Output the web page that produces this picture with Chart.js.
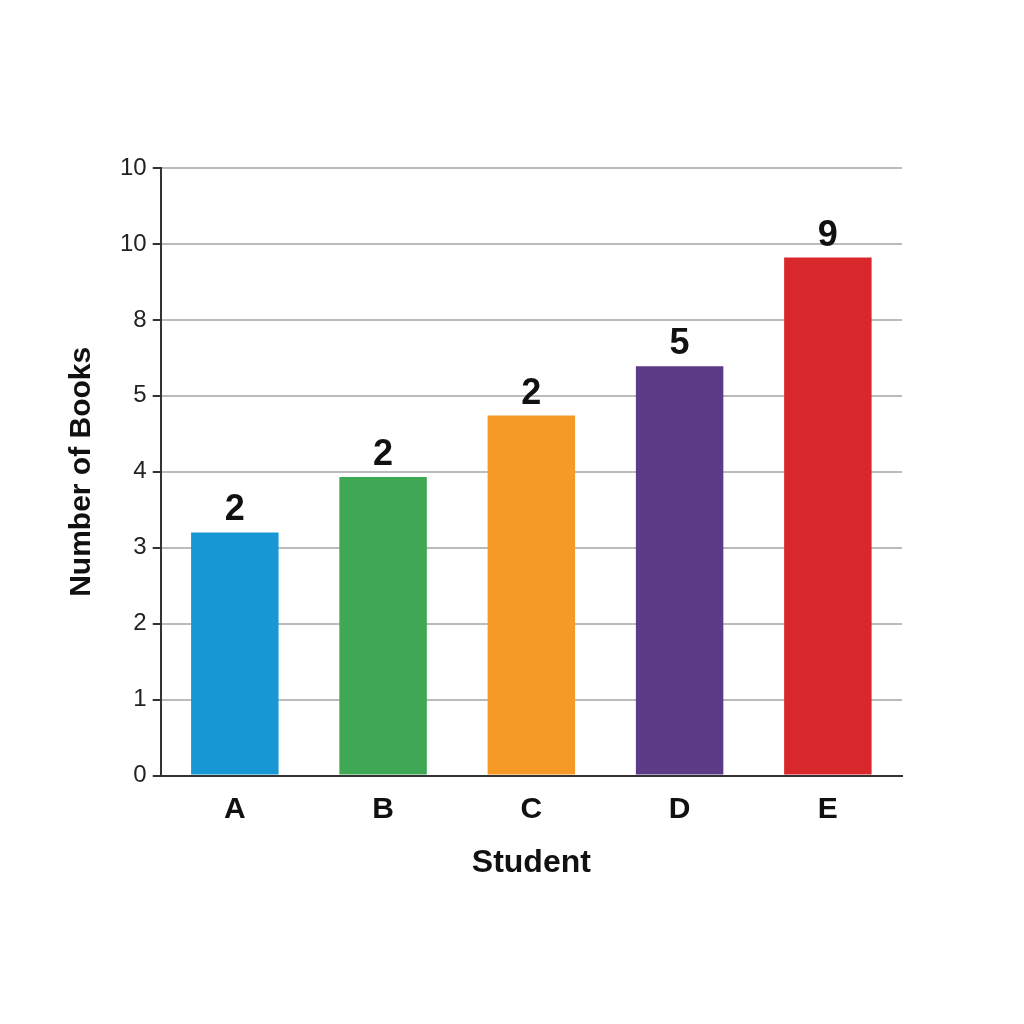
<!DOCTYPE html>
<html><head><meta charset="utf-8">
<script src="https://cdn.jsdelivr.net/npm/chart.js@4"></script>
<style>html,body{margin:0;background:#fff}#w{position:absolute;left:0;top:0;width:1024px;height:1024px}</style>
</head><body><div id="w"><canvas id="c" width="1024" height="1024"></canvas></div>
<script>
const categories = ["A","B","C","D","E"];
const barHeights = [3.2, 3.93, 4.74, 5.39, 6.82];
const barLabels = ["2","2","2","5","9"];
const yTickLabels = ["0","1","2","3","4","5","8","10","10"];
const colors = ["#1798d4","#3ea855","#f59a26","#5c3a86","#d8282b"];

const labelPlugin = {
  id: 'lbl',
  afterDatasetsDraw(chart) {
    const ctx = chart.ctx;
    const meta = chart.getDatasetMeta(0);
    ctx.save();
    ctx.font = 'bold 36px "Liberation Sans", Arial, sans-serif';
    ctx.fillStyle = '#111';
    ctx.textAlign = 'center';
    ctx.textBaseline = 'bottom';
    meta.data.forEach((b, i) => ctx.fillText(barLabels[i], b.x, b.y - 4));
    ctx.restore();
  }
};

new Chart(document.getElementById('c'), {
  type: 'bar',
  data: { labels: categories, datasets: [{ data: barHeights, backgroundColor: colors, barPercentage: 0.59, categoryPercentage: 1 }] },
  options: {
    responsive: false, animation: false,
    layout: { padding: { left: 60, right: 122, top: 168, bottom: 138 } },
    plugins: { legend: { display: false }, tooltip: { enabled: false } },
    scales: {
      x: {
        grid: { display: false },
        border: { color: '#333', width: 2 },
        ticks: { color: '#111', font: { size: 30, weight: 'bold', family: '"Liberation Sans", Arial' }, padding: 8 },
        title: { display: true, text: 'Student', color: '#111', font: { size: 32, weight: 'bold', family: '"Liberation Sans", Arial' }, padding: { top: 8 } }
      },
      y: {
        min: 0, max: 8,
        grid: { color: '#bbb', lineWidth: 2, tickLength: 8, tickColor: '#333' },
        border: { color: '#333', width: 2 },
        ticks: { stepSize: 1, color: '#222', font: { size: 24, family: '"Liberation Sans", Arial' }, padding: 6,
                 callback: (v) => yTickLabels[v] },
        title: { display: true, text: 'Number of Books', color: '#111', font: { size: 30, weight: 'bold', family: '"Liberation Sans", Arial' }, padding: { bottom: 14 } }
      }
    }
  },
  plugins: [labelPlugin]
});
</script></body></html>
